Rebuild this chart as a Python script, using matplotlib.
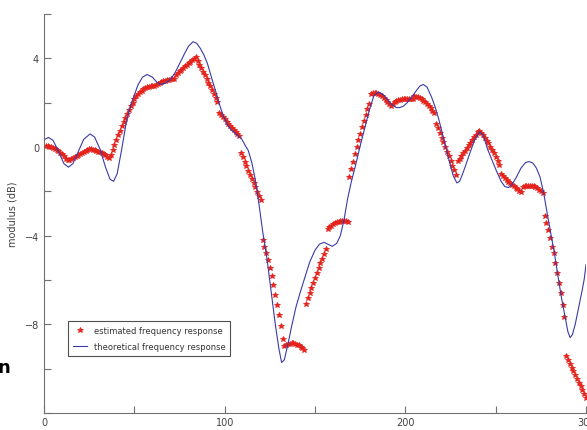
import numpy as np
import matplotlib
matplotlib.use('Agg')
import matplotlib.pyplot as plt
from matplotlib.ticker import FixedLocator, NullFormatter

# estimated response, one value per subcarrier (1..300), blocks of 12
subcarrier = np.arange(1, 301)
estimated = [
    0.05, 0.03, 0.01, -0.02, -0.06, -0.10, -0.15, -0.20, -0.26, -0.33, -0.42, -0.52,
    -0.60, -0.57, -0.54, -0.50, -0.46, -0.42, -0.37, -0.33, -0.28, -0.23, -0.18, -0.13,
    -0.10, -0.11, -0.13, -0.15, -0.18, -0.21, -0.24, -0.28, -0.33, -0.38, -0.44, -0.50,
    -0.35, -0.12, 0.10, 0.32, 0.53, 0.74, 0.95, 1.14, 1.33, 1.51, 1.68, 1.85,
    2.00, 2.15, 2.28, 2.38, 2.47, 2.54, 2.60, 2.65, 2.69, 2.72, 2.75, 2.77,
    2.74, 2.80, 2.85, 2.89, 2.93, 2.96, 2.99, 3.01, 3.03, 3.05, 3.07, 3.09,
    3.25, 3.33, 3.41, 3.49, 3.57, 3.64, 3.71, 3.78, 3.85, 3.92, 3.98, 4.06,
    3.88, 3.72, 3.55, 3.39, 3.23, 3.07, 2.90, 2.73, 2.56, 2.39, 2.22, 2.05,
    1.55, 1.45, 1.35, 1.25, 1.15, 1.05, 0.95, 0.85, 0.76, 0.67, 0.58, 0.49,
    -0.27, -0.47, -0.67, -0.87, -1.06, -1.25, -1.44, -1.63, -1.82, -2.01, -2.20, -2.40,
    -4.18, -4.49, -4.79, -5.09, -5.47, -5.82, -6.23, -6.68, -7.14, -7.59, -8.09, -8.65,
    -8.98, -8.93, -8.89, -8.87, -8.86, -8.86, -8.88, -8.91, -8.95, -9.00, -9.07, -9.15,
    -7.06, -6.82, -6.59, -6.36, -6.13, -5.91, -5.69, -5.47, -5.25, -5.03, -4.82, -4.60,
    -3.70, -3.62, -3.55, -3.49, -3.44, -3.40, -3.37, -3.35, -3.34, -3.34, -3.35, -3.37,
    -1.35, -1.00, -0.66, -0.33, -0.01, 0.30, 0.60, 0.89, 1.17, 1.44, 1.70, 1.94,
    2.40, 2.43, 2.44, 2.43, 2.40, 2.35, 2.29, 2.22, 2.14, 2.05, 1.95, 1.84,
    1.96, 2.02, 2.07, 2.11, 2.14, 2.16, 2.17, 2.18, 2.18, 2.17, 2.16, 2.15,
    2.28, 2.27, 2.24, 2.20, 2.15, 2.09, 2.02, 1.94, 1.85, 1.75, 1.64, 1.52,
    1.05, 0.84, 0.63, 0.42, 0.21, 0.00, -0.21, -0.42, -0.63, -0.84, -1.05, -1.26,
    -0.65, -0.52, -0.40, -0.28, -0.16, -0.04, 0.08, 0.20, 0.32, 0.43, 0.54, 0.66,
    0.70, 0.62, 0.52, 0.41, 0.29, 0.16, 0.02, -0.13, -0.29, -0.46, -0.64, -0.83,
    -1.24, -1.32, -1.40, -1.48, -1.56, -1.63, -1.70, -1.77, -1.84, -1.91, -1.98, -2.05,
    -1.79, -1.77, -1.76, -1.75, -1.75, -1.76, -1.78, -1.81, -1.86, -1.92, -1.99, -2.08,
    -3.12, -3.42, -3.73, -4.10, -4.49, -4.79, -5.24, -5.70, -6.15, -6.60, -7.14, -7.67,
    -9.42, -9.60, -9.78, -9.95, -10.12, -10.29, -10.46, -10.63, -10.80, -10.97, -11.14, -11.30,
]

# theoretical response
theory_k = [0, 2.5, 5, 8, 11, 13.5, 16, 19, 22, 25.5, 28, 31, 34, 36.5, 38.5, 40.5,
            43, 45.5, 48, 50, 52, 54.5, 57, 60, 62.5, 64.5, 67, 70, 72.5, 75, 76.5,
            78, 80, 82.5, 84.5, 86.5, 88.5, 90.5, 93, 95.5, 97.5, 99.5, 101.5, 103.5,
            105.5, 107.5, 109.5, 111.5, 113, 115, 117, 119, 121, 123.5, 126, 128, 130,
            131.5, 133, 135, 137, 139.5, 142, 144.5, 147, 150, 152.5, 155, 157.5, 159.5,
            162, 164, 166, 168, 170, 172.5, 175, 177.5, 180, 182.5, 185, 187.5, 190,
            192.5, 195, 197, 199, 201, 203, 205.5, 208, 210, 212, 214.5, 216.5, 218.5,
            220.5, 222.5, 224.5, 226.5, 228.5, 230, 231.5, 233.5, 236, 238.5, 241, 243,
            245.5, 248, 250.5, 253, 255, 257, 259, 261.5, 264, 266.5, 268.5, 270.5,
            272.5, 274.5, 276.5, 278.5, 280.5, 282.5, 284.5, 286.5, 288.5, 290, 291.2,
            292.5, 294, 296, 298, 299, 300]
theory_v = [0.33, 0.43, 0.30, -0.20, -0.75, -0.91, -0.75, -0.20, 0.35, 0.59, 0.45, -0.10,
            -0.90, -1.45, -1.55, -1.20, -0.10, 1.10, 1.90, 2.35, 2.80, 3.15, 3.27, 3.15,
            2.92, 2.82, 2.87, 3.05, 3.35, 3.75, 4.00, 4.25, 4.55, 4.75, 4.68, 4.45, 4.15,
            3.75, 3.05, 2.38, 1.82, 1.35, 1.00, 0.78, 0.64, 0.50, 0.35, 0.05, -0.15, -0.70,
            -1.50, -2.60, -3.80, -5.10, -6.70, -8.00, -9.10, -9.72, -9.60, -8.90, -8.10,
            -7.20, -6.50, -5.85, -5.20, -4.65, -4.38, -4.30, -4.40, -4.48, -4.35, -4.00,
            -3.30, -2.35, -1.60, -0.80, 0.06, 0.85, 1.65, 2.30, 2.48, 2.38, 2.15, 1.92,
            1.78, 1.78, 1.85, 2.00, 2.20, 2.48, 2.75, 2.82, 2.70, 2.25, 1.80, 1.25, 0.60,
            -0.05, -0.70, -1.30, -1.62, -1.55, -1.25, -0.80, -0.20, 0.35, 0.68, 0.55,
            -0.10, -0.60, -1.10, -1.55, -1.78, -1.83, -1.70, -1.35, -0.95, -0.70, -0.66,
            -0.72, -0.95, -1.35, -2.05, -3.00, -3.90, -4.80, -5.85, -6.85, -7.70, -8.35,
            -8.60, -8.45, -8.00, -7.20, -6.40, -5.95, -5.30]

x_ticks = [0, 100, 200, 300]
y_ticks = [-8, -4, 0, 4]

fig = plt.figure(figsize=(5.87, 4.31), dpi=100)
ax = fig.add_axes([0.075, 0.0394, 0.9234, 0.9258])

ax.plot(subcarrier, estimated, linestyle='none', marker='*', markersize=3.8,
        color='#e3231c', markeredgewidth=0.6, label='estimated frequency response')
ax.plot(theory_k, theory_v, color='#3a3aa8', linewidth=0.8,
        label='theoretical frequency response')

ax.set_xlim(0, 300)
ax.set_ylim(-12, 6)
ax.set_xticks(x_ticks)
ax.xaxis.set_minor_locator(FixedLocator([50, 150, 250]))
ax.set_yticks(y_ticks)
ax.yaxis.set_minor_locator(FixedLocator([-12, -10, -6, -2, 2, 6]))
ax.yaxis.set_minor_formatter(NullFormatter())
ax.tick_params(which='both', direction='in', length=5, width=0.8,
               color='#707070', labelcolor='#404040', labelsize=7)
ax.tick_params(axis='x', pad=3)

for side in ['top', 'right']:
    ax.spines[side].set_visible(False)
for side in ['left', 'bottom']:
    ax.spines[side].set_color('#707070')
    ax.spines[side].set_linewidth(0.8)

ax.set_xlabel('subcarrier index', fontsize=7, color='#404040', labelpad=3)
ax.set_ylabel('modulus (dB)', fontsize=7, color='#404040', labelpad=5)

leg = ax.legend(loc='lower left', bbox_to_anchor=(0.044, 0.143), fontsize=6,
                fancybox=False, framealpha=1, edgecolor='#505050',
                handlelength=1.7, handletextpad=0.8, borderpad=0.6,
                labelspacing=0.8, borderaxespad=0)
leg.get_frame().set_linewidth(0.8)
for t in leg.get_texts():
    t.set_color('#333333')

fig.text(-0.004, 0.146, 'n', fontsize=13, fontweight='bold', va='center', ha='left')

fig.savefig('out.png', dpi=100)
